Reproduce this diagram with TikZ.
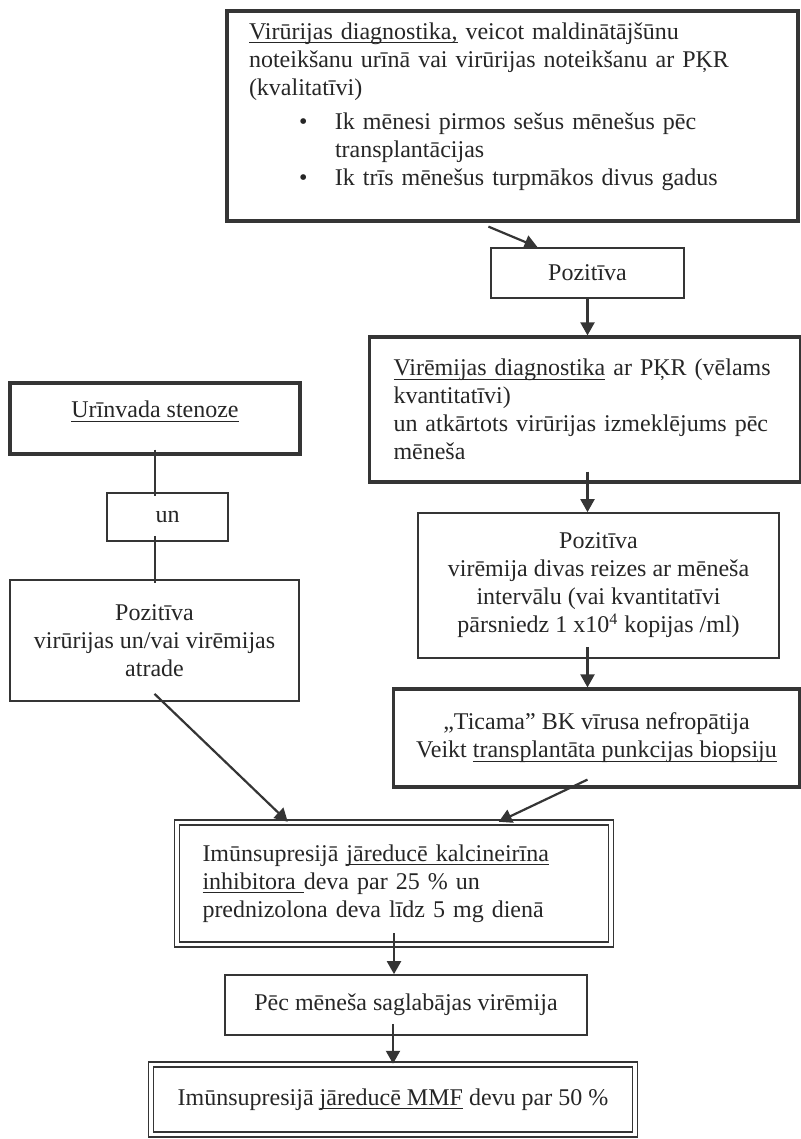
\documentclass[tikz,border=0pt]{standalone}
\usepackage{fontspec}
\setmainfont{Liberation Serif}
\usetikzlibrary{arrows.meta, calc}

\definecolor{ink}{HTML}{353535}
\newcommand*{\uln}[1]{\leavevmode\setbox0\hbox{#1}\rlap{\rule[-2pt]{\wd0}{0.6pt}}\box0\relax}

\tikzset{
  thinbox/.style={draw=ink, line width=0.85pt, inner sep=0pt, align=center},
  thickbox/.style={draw=ink, line width=1.6pt, inner sep=0pt, align=center},
  dblbox/.style={draw=ink, line width=0.75pt, double, double distance=1.6pt, inner sep=0pt, align=center},
  arr/.style={draw=ink, line width=1.1pt, -{Triangle[length=6.5pt,width=7pt]}},
  link/.style={draw=ink, line width=1.1pt},
}

\begin{document}
\begin{tikzpicture}[x=0.5pt, y=-0.5pt, font=\fontsize{12}{14}\selectfont, text=black!85]
	\useasboundingbox (0,0) rectangle (801,1139);

	% Right column
	\node[thickbox, minimum width=285.5pt, minimum height=105pt, text width=263.5pt, align=left] (virur) at (512.5,116)
		{\uln{Virūrijas diagnostika,} veicot maldinātājšūnu\\
		noteikšanu urīnā vai virūrijas noteikšanu ar PĶR\\
		(kvalitatīvi)\\[3pt]
		\hspace*{25pt}\textbullet\hspace{13.8pt}Ik mēnesi pirmos sešus mēnešus pēc\\
		\hspace*{43pt}transplantācijas\\
		\hspace*{25pt}\textbullet\hspace{13.8pt}Ik trīs mēnešus turpmākos divus gadus\\[-2pt]
		\mbox{}};
	\node[thinbox, minimum width=96.5pt, minimum height=25pt] (pozA) at (587.5,273) {Pozitīva};
	\node[thickbox, minimum width=215.5pt, minimum height=72.5pt, text width=191.5pt, align=left] (virem) at (585,409.5)
		{\uln{Virēmijas diagnostika} ar PĶR (vēlams\\
		kvantitatīvi)\\
		un atkārtots virūrijas izmeklējums pēc\\
		mēneša};
	\node[thinbox, minimum width=180.5pt, minimum height=72.5pt] (pozB) at (598.5,585.5)
		{Pozitīva\\virēmija divas reizes ar mēneša\\intervālu (vai kvantitatīvi\\pārsniedz 1 x10\textsuperscript{4} kopijas /ml)};
	\node[thickbox, minimum width=203pt, minimum height=49pt] (ticama) at (596.5,738)
		{„Ticama” BK vīrusa nefropātija\\Veikt \uln{transplantāta punkcijas biopsiju}};

	% Left column
	\node[thickbox, minimum width=145pt, minimum height=35.5pt, text depth=9pt] (urin) at (155,418.5) {\uln{Urīnvada stenoze}};
	\node[thinbox, minimum width=60.5pt, minimum height=24pt] (unbox) at (167.5,517) {un};
	\node[thinbox, minimum width=144.5pt, minimum height=60.5pt] (pozC) at (154.5,640.5)
		{Pozitīva\\virūrijas un/vai virēmijas\\atrade};

	% Bottom
	\node[dblbox, minimum width=217pt, minimum height=61pt, text width=191.5pt, align=left] (imun) at (394,883.5)
		{Imūnsupresijā \uln{jāreducē kalcineirīna}\\
		\uln{inhibitora\ }deva par 25 \% un\\
		prednizolona deva līdz 5 mg dienā};
	\node[thinbox, minimum width=181pt, minimum height=30pt] (pec) at (406,1005) {Pēc mēneša saglabājas virēmija};
	\node[dblbox, minimum width=242pt, minimum height=35pt] (mmf) at (393,1099.5)
		{Imūnsupresijā \uln{jāreducē MMF} devu par 50 \%};

	% Arrows
	\draw[arr] ([xshift=131.5pt,yshift=-2pt]virur.south west) -- ([xshift=-25pt]pozA.north);
	\draw[arr] (pozA.south) -- (pozA.south |- virem.north);
	\draw[arr, shorten <=-6pt] (virem.south -| pozA.south) -- (pozA.south |- pozB.north);
	\draw[arr, shorten <=-6pt] (pozB.south -| pozA.south) -- (pozA.south |- ticama.north);
	\draw[link, shorten <=-3pt, shorten >=-2pt] (urin.south) -- (urin.south |- unbox.north);
	\draw[link, shorten <=-3pt, shorten >=-2pt] (unbox.south -| urin.south) -- (urin.south |- pozC.north);
	\draw[arr] ([yshift=4pt]pozC.south) -- ([xshift=55.75pt]imun.north west);
	\draw[arr] ([xshift=-4.5pt,yshift=4.5pt]ticama.south) -- ([xshift=-56.5pt]imun.north east);
	\draw[arr, shorten <=-6pt] (imun.south) -- (imun.south |- pec.north);
	\draw[arr, shorten <=-6pt] (pec.south -| mmf.north) -- (mmf.north);
\end{tikzpicture}
\end{document}
